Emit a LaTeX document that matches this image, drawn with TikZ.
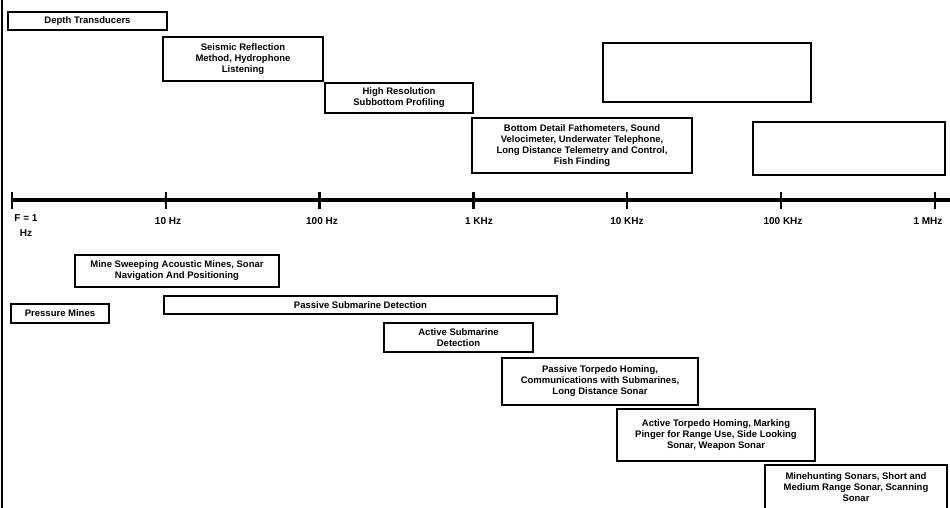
\documentclass[tikz,border=0pt]{standalone}
\usepackage{fontspec}
\setmainfont{Liberation Sans}
\usetikzlibrary{positioning}

\begin{document}
\begin{tikzpicture}[x=1pt,y=-1pt]
\tikzstyle{band}=[rectangle, draw=black, line width=2.2pt, align=center, inner sep=0pt, font=\bfseries\fontsize{9.5}{11}\selectfont]
\tikzstyle{freq}=[inner sep=0pt, align=center, font=\bfseries\fontsize{10}{15}\selectfont]
\tikzstyle{axis}=[line width=4.5pt]
\tikzstyle{tickline}=[line width=2.5pt]
\useasboundingbox (0,0) rectangle (950,508);
\draw[line width=2pt] (2,0) -- (2,508);
% frequency axis
	\foreach \i in {0,...,6}
		\coordinate (f_\i) at (12+153.8*\i,200);
	\coordinate (f_end) at (950,200);
	\draw[axis] (f_0) -- (f_end);
	\foreach \i in {0,...,6}
		\draw[tickline] ([yshift=8pt]f_\i) -- ([yshift=-9pt]f_\i);
	\node[freq] (l_0) at (26,226) {F = 1\\Hz};
	\node[freq] (l_1) at (168,221) {10 Hz};
	\node[freq] (l_2) at (322,221) {100 Hz};
	\node[freq] (l_3) at (479,221) {1 KHz};
	\node[freq] (l_4) at (627,221) {10 KHz};
	\node[freq] (l_5) at (783,221) {100 KHz};
	\node[freq] (l_6) at (928,221) {1 MHz};
% above the axis
	\node[band, minimum width=159, minimum height=18] (b_1) at (87.5,21) {Depth Transducers};
	\node[band, minimum width=160, minimum height=44] (b_2) at (243,59) {Seismic Reflection\\Method, Hydrophone\\Listening};
	\node[band, minimum width=148, minimum height=30] (b_3) at (399,98) {High Resolution\\Subbottom Profiling};
	\node[band, minimum width=220, minimum height=55] (b_4) at (582,145.5) {Bottom Detail Fathometers, Sound\\Velocimeter, Underwater Telephone,\\Long Distance Telemetry and Control,\\Fish Finding};
	\node[band, minimum width=208, minimum height=59] (b_5) at (707,72.5) {};
	\node[band, minimum width=192, minimum height=53] (b_6) at (849,148.5) {};
% below the axis
	\node[band, minimum width=204, minimum height=32] (b_7) at (177,271) {Mine Sweeping Acoustic Mines, Sonar\\Navigation And Positioning};
	\node[band, minimum width=98, minimum height=19] (b_8) at (60,313.5) {Pressure Mines};
	\node[band, minimum width=393, minimum height=18] (b_9) at (360.5,305) {Passive Submarine Detection};
	\node[band, minimum width=149, minimum height=29] (b_10) at (458.5,337.5) {Active Submarine\\Detection};
	\node[band, minimum width=196, minimum height=47] (b_11) at (600,381.5) {Passive Torpedo Homing,\\Communications with Submarines,\\Long Distance Sonar};
	\node[band, minimum width=198, minimum height=52] (b_12) at (716,435) {Active Torpedo Homing, Marking\\Pinger for Range Use, Side Looking\\Sonar, Weapon Sonar};
	\node[band, minimum width=182, minimum height=45] (b_13) at (856,487.5) {Minehunting Sonars, Short and\\Medium Range Sonar, Scanning\\Sonar};
\end{tikzpicture}
\end{document}
